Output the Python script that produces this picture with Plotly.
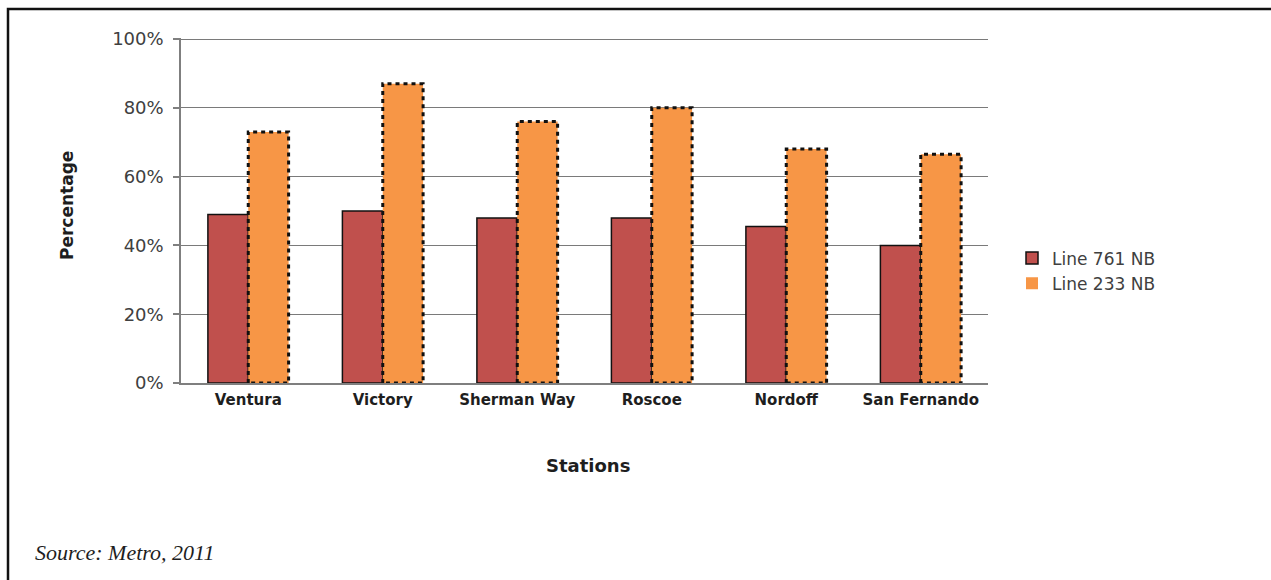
import numpy as np
import plotly.graph_objects as go

# Share of riders by station, northbound
stations = ["Ventura", "Victory", "Sherman Way", "Roscoe", "Nordoff", "San Fernando"]
line_761_nb = [0.49, 0.50, 0.48, 0.48, 0.455, 0.40]
line_233_nb = [0.73, 0.87, 0.76, 0.80, 0.68, 0.665]

W, H = 1271, 580
L, R, T, B = 181, 283, 38, 197
plot_w = W - L - R
plot_h = H - T - B

def px_x(px):
    return (px - L) / plot_w

def px_y(py):
    return (H - B - py) / plot_h

idx = np.arange(len(stations))
bar_w = 0.3
red_x = idx - bar_w / 2
org_x = idx + bar_w / 2

fig = go.Figure()

fig.add_trace(go.Bar(
    x=red_x, y=line_761_nb, width=bar_w, name="Line 761 NB",
    marker=dict(color="#C0504D", line=dict(color="#111111", width=1.5)),
))
fig.add_trace(go.Bar(
    x=org_x, y=line_233_nb, width=bar_w, name="Line 233 NB",
    marker=dict(color="#F79646", line=dict(color="#111111", width=0)),
))

# dotted outline around each Line 233 bar
ox, oy = [], []
for xc, v in zip(org_x, line_233_nb):
    x0, x1 = xc - bar_w / 2, xc + bar_w / 2
    ox += [x0, x0, x1, x1, x0, None]
    oy += [0, v, v, 0, 0, None]
fig.add_trace(go.Scatter(
    x=ox, y=oy, mode="lines", showlegend=False, hoverinfo="skip",
    line=dict(color="#111111", width=3, dash="4px,4px"),
))

fig.update_layout(
    width=W, height=H,
    margin=dict(l=L, r=R, t=T, b=B),
    paper_bgcolor="white", plot_bgcolor="white",
    barmode="overlay",
    font=dict(family="DejaVu Sans", color="#404040"),
    legend=dict(
        x=px_x(1012), y=px_y(271), xanchor="left", yanchor="middle",
        font=dict(size=17, color="#404040"), itemwidth=30,
        tracegroupgap=0, bgcolor="rgba(0,0,0,0)",
    ),
    xaxis=dict(
        range=[-0.5, len(stations) - 0.5],
        tickvals=idx, ticktext=stations,
        tickfont=dict(size=15, color="#1e1e1e", family="DejaVu Sans", weight="bold"),
        showgrid=False, zeroline=False,
        showline=True, linecolor="#7f7f7f", linewidth=1.5,
        ticks="", ticklabelstandoff=2,
    ),
    yaxis=dict(
        range=[0, 1.003], tickvals=[0, 0.2, 0.4, 0.6, 0.8, 1.0], tickformat=".0%",
        tickfont=dict(size=18, color="#404040"),
        showgrid=True, gridcolor="#7a7a7a", gridwidth=1.2,
        zeroline=False,
        showline=True, linecolor="#7f7f7f", linewidth=1.5,
        ticks="outside", ticklen=6, tickcolor="#7f7f7f", tickwidth=1.5,
        ticklabelstandoff=6,
    ),
    annotations=[
        dict(text="<b>Stations</b>", x=px_x(588), y=px_y(465),
             xref="paper", yref="paper", showarrow=False,
             xanchor="center", yanchor="middle",
             font=dict(size=18, color="#1e1e1e")),
        dict(text="<b>Percentage</b>", x=px_x(67), y=px_y(205),
             xref="paper", yref="paper", showarrow=False, textangle=-90,
             xanchor="center", yanchor="middle",
             font=dict(size=17, color="#1e1e1e")),
        dict(text="<i>Source: Metro, 2011</i>", x=px_x(33), y=px_y(552),
             xref="paper", yref="paper", showarrow=False,
             xanchor="left", yanchor="middle",
             font=dict(size=22, color="#1e1e1e", family="Liberation Serif")),
    ],
    shapes=[
        dict(type="rect", xref="paper", yref="paper",
             x0=px_x(8), x1=px_x(1290), y0=px_y(600), y1=px_y(9),
             line=dict(color="#111111", width=2.5), fillcolor="rgba(0,0,0,0)",
             layer="below"),
    ],
)

fig.write_html("out.html")
